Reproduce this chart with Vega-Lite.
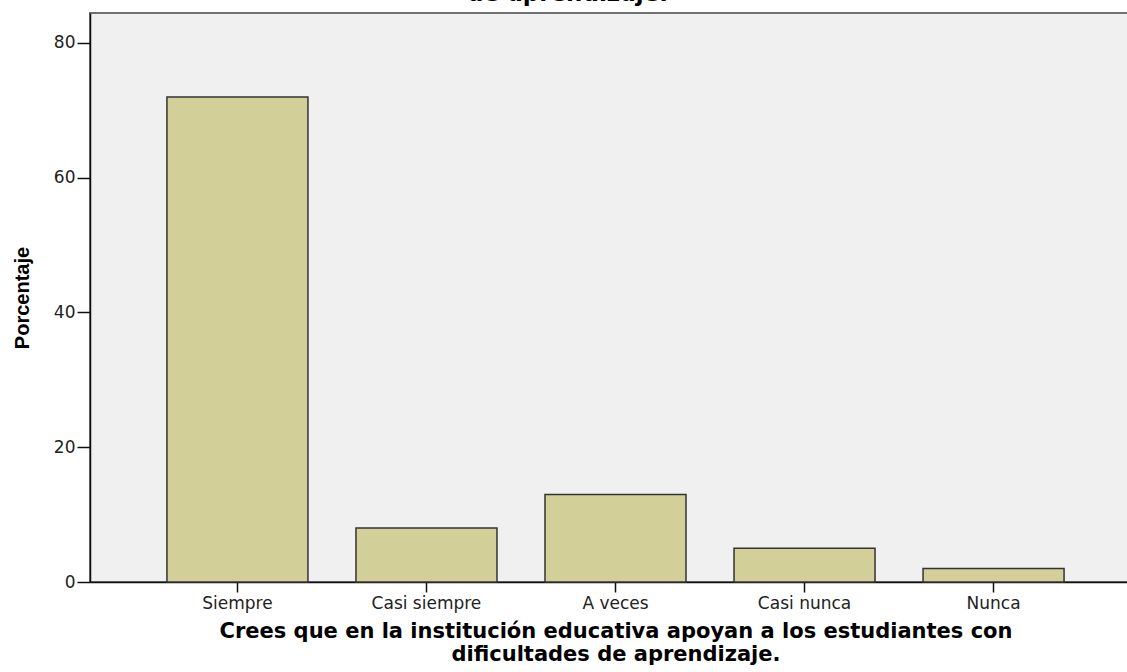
{
  "$schema": "https://vega.github.io/schema/vega-lite/v6.json",
  "autosize": "none",
  "padding": {"left": 90, "top": 13, "right": 0, "bottom": 90},
  "width": 1051,
  "height": 569,
  "background": "white",
  "title": {
    "text": ["Crees que en la institución educativa apoyan a los estudiantes con dificultades", "de aprendizaje."],
    "font": "DejaVu Sans",
    "fontSize": 23,
    "fontWeight": "bold",
    "color": "black",
    "anchor": "middle",
    "dx": -48,
    "offset": 7,
    "lineHeight": 27
  },
  "config": {
    "view": {"fill": "#f0f0f0", "stroke": "#707070", "strokeWidth": 2},
    "axis": {"labelFont": "DejaVu Sans", "titleFont": "DejaVu Sans", "labelColor": "#222", "titleColor": "black", "domainColor": "#111", "tickColor": "#111", "grid": false, "domainWidth": 1.5, "tickWidth": 1.5}
  },
  "data": {
    "values": [
      {"respuesta": "Siempre", "porcentaje": 72.0},
      {"respuesta": "Casi siempre", "porcentaje": 8.0},
      {"respuesta": "A veces", "porcentaje": 13.0},
      {"respuesta": "Casi nunca", "porcentaje": 5.0},
      {"respuesta": "Nunca", "porcentaje": 2.0}
    ]
  },
  "mark": {"type": "bar", "fill": "#d3cf98", "stroke": "#333333", "strokeWidth": 1.5},
  "encoding": {
    "x": {
      "field": "respuesta",
      "type": "nominal",
      "sort": null,
      "scale": {"paddingInner": 0.254, "paddingOuter": 0.407},
      "axis": {
        "title": ["Crees que en la institución educativa apoyan a los estudiantes con", "dificultades de aprendizaje."],
        "labelAngle": 0,
        "labelFontSize": 17,
        "labelPadding": 3,
        "tickSize": 10,
        "titleFontSize": 21,
        "titleFontWeight": "bold",
        "titleLineHeight": 23,
        "titleAnchor": "middle",
        "titlePadding": 9
      }
    },
    "y": {
      "field": "porcentaje",
      "type": "quantitative",
      "scale": {"domain": [0, 84.45], "nice": false, "zero": true},
      "axis": {
        "title": "Porcentaje",
        "values": [0, 20, 40, 60, 80],
        "labelFontSize": 17,
        "labelPadding": 2,
        "tickSize": 13,
        "titleFont": "Liberation Sans",
        "titleFontSize": 20,
        "titleFontWeight": "bold",
        "titlePadding": 21
      }
    }
  }
}
